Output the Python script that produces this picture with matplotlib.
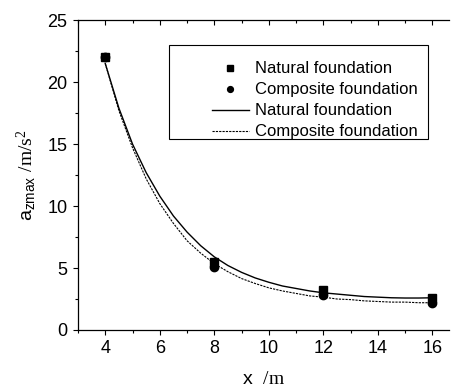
import matplotlib
matplotlib.use("Agg")
import matplotlib.pyplot as plt
from matplotlib.patches import Rectangle
from matplotlib.ticker import MultipleLocator

plt.rcParams["font.family"] = ["Liberation Sans", "DejaVu Sans"]
plt.rcParams["mathtext.fontset"] = "custom"
plt.rcParams["mathtext.rm"] = "Liberation Serif"
plt.rcParams["mathtext.sf"] = "Liberation Sans"

# measured points
x_pts = [4, 8, 12, 16]
natural_pts = [22.05, 5.5, 3.2, 2.55]
composite_pts = [22.0, 5.1, 2.8, 2.2]

# fitted curves, every 0.5 m
x_fit = [4.0, 4.5, 5.0, 5.5, 6.0, 6.5, 7.0, 7.5, 8.0, 8.5, 9.0, 9.5, 10.0,
         10.5, 11.0, 11.5, 12.0, 12.5, 13.0, 13.5, 14.0, 14.5, 15.0, 15.5, 16.0]
natural_fit = [21.5, 17.9, 15.0, 12.7, 10.8, 9.2, 7.9, 6.8, 5.9, 5.2, 4.65,
               4.2, 3.85, 3.55, 3.35, 3.15, 3.0, 2.9, 2.8, 2.7, 2.65, 2.6,
               2.58, 2.58, 2.6]
composite_fit = [21.5, 17.7, 14.7, 12.2, 10.2, 8.6, 7.2, 6.2, 5.35, 4.7, 4.15,
                 3.75, 3.4, 3.15, 2.95, 2.75, 2.65, 2.5, 2.45, 2.35, 2.3, 2.25,
                 2.25, 2.2, 2.2]

fig = plt.figure(figsize=(4.52, 3.89), dpi=100)
ax = fig.add_axes([0.1726, 0.1517, 0.8204, 0.7963])

sq, = ax.plot(x_pts, natural_pts, "s", color="black", markersize=5.8, linestyle="none")
ci, = ax.plot(x_pts, composite_pts, "o", color="black", markersize=6, linestyle="none")
l1, = ax.plot(x_fit, natural_fit, "-", color="black", linewidth=1.0)
l2, = ax.plot(x_fit, composite_fit, color="black", linewidth=0.8, linestyle=(0, (2, 1)))

ax.set_xlim(3, 16.6)
ax.set_ylim(0, 25)
ax.xaxis.set_major_locator(MultipleLocator(2))
ax.xaxis.set_minor_locator(MultipleLocator(1))
ax.yaxis.set_major_locator(MultipleLocator(5))
ax.yaxis.set_minor_locator(MultipleLocator(2.5))
ax.set_xticks([4, 6, 8, 10, 12, 14, 16])

ax.tick_params(axis="both", which="major", direction="out", length=3.5, width=0.8,
               labelsize=13, pad=4)
ax.tick_params(axis="both", which="minor", direction="out", length=2, width=0.8)
ax.tick_params(axis="x", which="both", top=True)
ax.spines["right"].set_visible(False)
for s in ["left", "bottom", "top"]:
    ax.spines[s].set_linewidth(0.9)

# top ticks point inward
for t in ax.xaxis.get_major_ticks() + ax.xaxis.get_minor_ticks():
    t.tick2line.set_marker(3)

ax.set_xlabel(r"x  $\mathrm{/m}$", fontsize=14, labelpad=10)
ax.set_ylabel(r"a$_{\mathsf{zmax}}$ $\mathrm{/m/s^2}$", fontsize=14, labelpad=6)

ax.add_patch(Rectangle((0.245, 0.617), 0.698, 0.303, transform=ax.transAxes,
                       fill=False, edgecolor="black", linewidth=0.8, zorder=5))
leg = ax.legend([sq, ci, l1, l2],
                ["Natural foundation", "Composite foundation",
                 "Natural foundation", "Composite foundation"],
                loc="upper left", bbox_to_anchor=(0.361, 0.867), frameon=False,
                fontsize=12, borderpad=0, borderaxespad=0, handlelength=2.2,
                handletextpad=0.4, labelspacing=0.36, markerscale=0.7)

fig.savefig("out.png", dpi=100)
